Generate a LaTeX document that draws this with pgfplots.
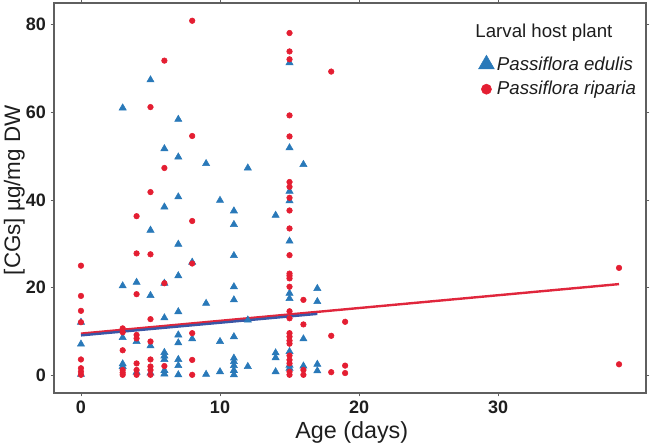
\documentclass[border=0pt]{standalone}
\usepackage{fontspec}
\setmainfont{Liberation Sans}
\usepackage{pgfplots}
\usepackage{pgfplotstable}
\pgfplotsset{compat=1.18}
\definecolor{blueM}{RGB}{41,121,185}
\definecolor{redM}{RGB}{228,30,50}
\definecolor{blueL}{RGB}{58,86,166}
\definecolor{redL}{RGB}{224,38,60}
\definecolor{frameC}{RGB}{95,95,95}
\definecolor{txtC}{RGB}{30,30,30}

\pgfplotstableread{
x y
0 12.1
0 7.1
0 0.2
3 61.0
3 20.4
3 8.6
3 2.6
3 2.0
4 21.2
4 7.7
4 0.7
5 67.4
5 33.1
5 18.2
5 6.7
5 0.5
6 51.7
6 38.4
6 21.0
6 13.1
6 5.2
6 4.4
6 3.6
6 1.1
6 0.3
7 58.4
7 49.8
7 40.7
7 29.9
7 22.7
7 14.5
7 9.2
7 7.4
7 3.6
7 2.2
7 0.1
8 25.8
8 8.3
9 48.3
9 16.4
9 0.2
10 39.9
10 7.7
10 0.8
11 37.5
11 34.4
11 27.3
11 20.2
11 17.2
11 8.8
11 3.9
11 3.1
11 2.2
11 1.1
11 0.1
12 47.3
12 12.6
12 2.0
14 36.5
14 5.1
14 4.0
14 0.8
15 71.3
15 51.9
15 42.0
15 39.8
15 30.6
15 18.7
15 17.5
15 5.4
15 2.3
15 1.6
16 48.1
16 8.3
16 2.1
17 19.8
17 16.8
17 2.5
17 1.0
}\edulis

\pgfplotstableread{
x y
0 25.0
0 18.1
0 14.7
0 12.1
0 3.6
0 1.6
0 0.8
0 0.1
3 10.7
3 9.8
3 5.7
3 1.2
3 0.6
3 0.1
4 36.3
4 27.8
4 18.5
4 9.2
4 8.4
4 2.7
4 1.2
4 0.1
5 61.2
5 41.8
5 27.6
5 12.8
5 7.7
5 3.6
5 2.0
5 1.2
5 0.1
6 71.8
6 47.3
6 21.0
6 2.1
8 80.9
8 54.6
8 35.2
8 25.5
8 9.6
8 3.5
8 0.1
15 78.1
15 73.9
15 72.1
15 59.3
15 54.5
15 44.1
15 43.0
15 40.5
15 37.6
15 33.5
15 27.4
15 23.2
15 22.7
15 22.1
15 20.2
15 14.6
15 13.0
15 9.6
15 8.8
15 7.9
15 7.2
15 4.5
15 3.5
15 2.7
15 0.8
15 0.1
16 17.2
16 11.6
16 1.2
16 0.1
18 69.3
18 9.0
18 0.7
19 12.2
19 2.2
19 0.5
38.7 24.5
38.7 2.5
}\riparia

\begin{document}
\begin{tikzpicture}
\begin{axis}[
  scale only axis, width=444pt, height=292.5pt,
  xmin=-1.94, xmax=40.64, ymin=-4.05, ymax=84.95,
  xtick={0,10,20,30}, ytick={0,20,40,60,80},
  tick align=outside, major tick length=2.5pt,
  tick style={color=frameC, line width=0.6pt},
  axis line style={color=frameC, line width=0.8pt},
  /pgf/number format/assume math mode=true,
  ticklabel style={font=\fontsize{13.5}{15}\selectfont\bfseries, color=txtC},
  xlabel={Age (days)}, ylabel={[CGs] µg/mg DW},
  label style={color=txtC},
  xlabel style={font=\fontsize{17.5}{20}\selectfont, at={(axis description cs:0.503,0)}, anchor=center, yshift=-29.5pt},
  ylabel style={font=\fontsize{16.8}{19}\selectfont, at={(axis description cs:-0.067,0.52)}, anchor=center},
  legend style={draw=none, fill=none, at={(axis description cs:0.71,0.877)}, anchor=north west,
    font=\fontsize{14}{16}\selectfont\itshape, row sep=3pt, text=txtC},
  legend cell align=left,
  clip=true,
]
\addplot[only marks, mark=triangle*, mark size=3.1pt, color=blueM, legend image post style={mark size=6.8pt}] table[x=x,y=y] {\edulis};
\addlegendentry{Passiflora edulis}
\addplot[only marks, mark=*, mark size=2.1pt, color=redM, legend image post style={mark size=3.8pt}] table[x=x,y=y] {\riparia};
\addlegendentry{Passiflora riparia}
\addplot[redL, line width=1.8pt, forget plot] coordinates {(0,9.5) (38.7,20.8)};
\addplot[blueL, line width=1.8pt, forget plot] coordinates {(0,9.1) (17,14.0)};
\node[anchor=west, font=\fontsize{14}{16}\selectfont, text=txtC] at (axis description cs:0.704,0.924) {Larval host plant};
\end{axis}
\pgfresetboundingbox
\path ([shift={(-40.5pt,-39pt)}]current axis.south west) rectangle ([shift={(3pt,2.25pt)}]current axis.north east);
\end{tikzpicture}
\end{document}
